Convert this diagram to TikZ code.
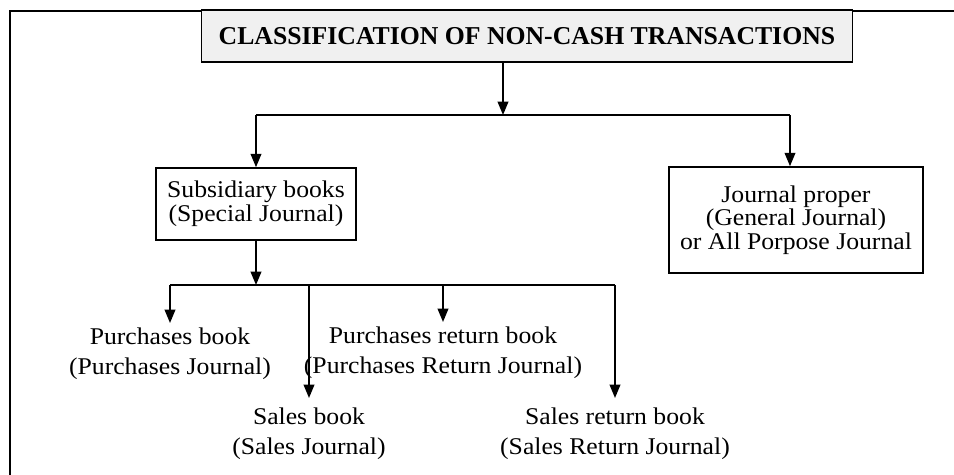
\documentclass[tikz,border=0pt]{standalone}
\usepackage{fontspec}
\setmainfont{Liberation Serif}
\newfontfamily\bodyfont[FakeStretch=1.07]{Liberation Serif}
\usetikzlibrary{arrows.meta}

\begin{document}
\begin{tikzpicture}[x=0.75pt, y=-0.75pt, line width=1.2pt,
  arr/.style={-{Triangle[width=8pt,length=10pt]}},
  titlebox/.style={draw, fill=black!6, minimum width=488pt, minimum height=39pt,
    inner sep=0pt, font=\fontsize{19.3}{21}\selectfont\bfseries},
  bookbox/.style={draw, align=center, inner sep=0pt,
    font=\bodyfont\fontsize{18}{17.8}\selectfont},
  leaf/.style={align=center, anchor=north, inner xsep=0pt,
    font=\bodyfont\fontsize{18}{22.5}\selectfont},
  upper/.style={leaf, inner ysep=3pt},
  lower/.style={leaf, inner ysep=6.5pt}]
\useasboundingbox (0,0) rectangle (954,475);

% frame edges
\draw (10,475) -- (10,11) -- (954,11);

% heading
\node[titlebox] (title) at (527,36) {CLASSIFICATION OF NON-CASH TRANSACTIONS};

% the two kinds of journal
\node[bookbox, minimum width=150pt, minimum height=54pt] (sb) at (256,204)
  {Subsidiary books\\(Special Journal)};
\node[bookbox, minimum width=190.5pt, minimum height=79.5pt] (jp) at (796,220)
  {Journal proper\\(General Journal)\\or All Porpose Journal};

% the subsidiary books
\node[upper] (pb) at (170,323) {Purchases book\\(Purchases Journal)};
\node[upper] (pr) at (443,322) {Purchases return book\\(Purchases Return Journal)};
\node[lower] (sl) at (309,398) {Sales book\\(Sales Journal)};
\node[lower] (sr) at (615,398) {Sales return book\\(Sales Return Journal)};

% branch points
\coordinate (split) at (503,115);
\coordinate (jsplit) at (790,115);
\coordinate (bus) at (256,285);

% heading to the two journals
\draw[arr] (title.south -| split) -- (split);
\draw (sb.north |- split) -- (jsplit);
\draw[arr] (sb.north |- split) -- (sb.north);
\draw[arr] (jsplit) -- (jsplit |- jp.north);

% subsidiary books to each book
\draw[arr] (sb.south) -- (bus);
\draw (pb.north |- bus) -- (sr.north |- bus);
\draw[arr] (pb.north |- bus) -- (pb.north);
\draw[arr] (pr.north |- bus) -- (pr.north);
\draw[arr] (sl.north |- bus) -- (sl.north);
\draw[arr] (sr.north |- bus) -- (sr.north);
\end{tikzpicture}
\end{document}
